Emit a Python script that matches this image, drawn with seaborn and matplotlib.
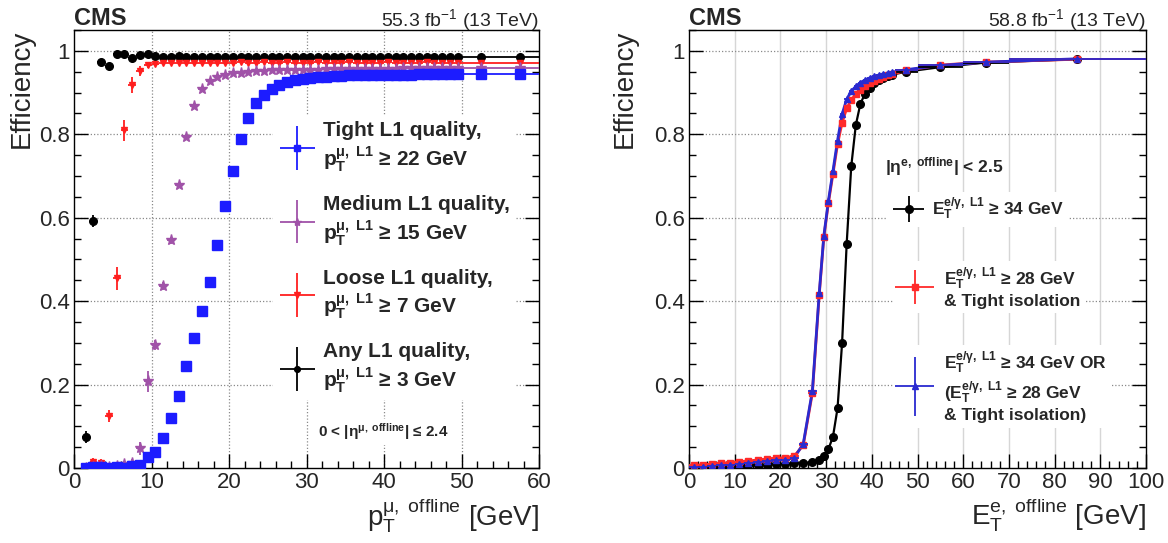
import matplotlib
matplotlib.use("Agg")
import matplotlib.pyplot as plt
import seaborn as sns
import pandas as pd
from matplotlib.ticker import MultipleLocator, FuncFormatter
from matplotlib.legend_handler import HandlerErrorbar
from matplotlib.container import ErrorbarContainer
from matplotlib.font_manager import FontProperties

# ---------------- left panel: muon L1 efficiency ----------------
mu_pt = [1.5, 2.5, 3.5, 4.5, 5.5, 6.5, 7.5, 8.5, 9.5,
         10.5, 11.5, 12.5, 13.5, 14.5, 15.5, 16.5, 17.5, 18.5, 19.5,
         20.5, 21.5, 22.5, 23.5, 24.5, 25.5, 26.5, 27.5, 28.5, 29.5,
         30.5, 31.5, 32.5, 33.5, 34.5, 35.5, 36.5, 37.5, 38.5, 39.5,
         40.5, 41.5, 42.5, 43.5, 44.5, 45.5, 46.5, 47.5, 48.5, 49.5,
         52.5, 57.5]
mu_halfwidth = [0.5] * 49 + [2.5, 2.5]

eff_any = [0.075, 0.592, 0.973, 0.964, 0.992, 0.993, 0.984, 0.989, 0.992,
           0.987, 0.986, 0.986, 0.987, 0.986, 0.986, 0.985, 0.986, 0.986, 0.986,
           0.986, 0.985, 0.986, 0.986, 0.986, 0.985, 0.986, 0.986, 0.986, 0.986,
           0.986, 0.985, 0.986, 0.986, 0.986, 0.986, 0.985, 0.986, 0.986, 0.986,
           0.986, 0.986, 0.985, 0.986, 0.986, 0.986, 0.986, 0.985, 0.986, 0.986,
           0.986, 0.986]
err_any = [0.014, 0.015, 0.006, 0.006, 0.004, 0.003, 0.003, 0.003, 0.003] + [0.002] * 42

eff_loose = [0.002, 0.015, 0.013, 0.125, 0.455, 0.810, 0.918, 0.952, 0.966,
             0.968, 0.970, 0.971, 0.971, 0.972, 0.971, 0.972, 0.972, 0.972, 0.972,
             0.972, 0.973, 0.972, 0.972, 0.973, 0.972, 0.972, 0.973, 0.972, 0.972,
             0.972, 0.973, 0.972, 0.972, 0.972, 0.973, 0.972, 0.972, 0.972, 0.972,
             0.973, 0.972, 0.972, 0.972, 0.972, 0.973, 0.972, 0.972, 0.972, 0.972,
             0.972, 0.972]
err_loose = [0.006, 0.008, 0.008, 0.015, 0.028, 0.025, 0.020, 0.012, 0.006] + [0.002] * 42

eff_medium = [0.000, 0.003, 0.004, 0.003, 0.004, 0.010, 0.013, 0.047, 0.208,
              0.294, 0.437, 0.546, 0.679, 0.793, 0.868, 0.908, 0.928, 0.938, 0.943,
              0.946, 0.948, 0.950, 0.951, 0.952, 0.953, 0.953, 0.954, 0.954, 0.955,
              0.955, 0.955, 0.956, 0.956, 0.956, 0.956, 0.957, 0.957, 0.957, 0.957,
              0.957, 0.957, 0.958, 0.958, 0.958, 0.958, 0.958, 0.958, 0.958, 0.958,
              0.958, 0.958]
err_medium = [0.004, 0.005, 0.005, 0.005, 0.005, 0.006, 0.008, 0.015, 0.025,
              0.012, 0.010, 0.008] + [0.003] * 39

eff_tight = [0.001, 0.002, 0.002, 0.001, 0.002, 0.001, 0.004, 0.006, 0.026,
             0.039, 0.072, 0.120, 0.173, 0.245, 0.312, 0.377, 0.446, 0.535, 0.627,
             0.712, 0.788, 0.838, 0.875, 0.893, 0.908, 0.918, 0.925, 0.930, 0.933,
             0.935, 0.937, 0.938, 0.939, 0.940, 0.941, 0.941, 0.942, 0.942, 0.942,
             0.943, 0.943, 0.943, 0.943, 0.944, 0.944, 0.944, 0.944, 0.944, 0.944,
             0.944, 0.944]
err_tight = [0.002] * 51

mu_labels = ["Tight L1 quality,\n$\\mathbf{p_{T}^{μ,\\ L1}}$ ≥ 22 GeV",
             "Medium L1 quality,\n$\\mathbf{p_{T}^{μ,\\ L1}}$ ≥ 15 GeV",
             "Loose L1 quality,\n$\\mathbf{p_{T}^{μ,\\ L1}}$ ≥ 7 GeV",
             "Any L1 quality,\n$\\mathbf{p_{T}^{μ,\\ L1}}$ ≥ 3 GeV"]

# ---------------- right panel: e/gamma L1 efficiency ----------------
e_et = [1, 3, 5, 7, 9, 11, 13, 15, 17, 19, 21, 23, 25, 27,
        28.5, 29.5, 30.5, 31.5, 32.5, 33.5, 34.5, 35.5, 36.5, 37.5, 38.5,
        39.5, 40.5, 41.5, 42.5, 43.5, 44.5,
        47.5, 55, 65, 85]
e_halfwidth = [1] * 14 + [0.5] * 17 + [2.5, 5, 5, 15]

eff_34 = [0.001, 0.002, 0.002, 0.003, 0.004, 0.005, 0.006, 0.007, 0.008, 0.009,
          0.010, 0.011, 0.012, 0.014,
          0.019, 0.028, 0.045, 0.075, 0.143, 0.300, 0.537, 0.723, 0.822, 0.873,
          0.897, 0.912, 0.922, 0.929, 0.934, 0.939, 0.943,
          0.950, 0.961, 0.972, 0.980]
eff_iso = [0.006, 0.008, 0.009, 0.011, 0.013, 0.015, 0.017, 0.019, 0.021, 0.023,
           0.025, 0.028, 0.055, 0.180,
           0.415, 0.553, 0.635, 0.705, 0.776, 0.828, 0.862, 0.882, 0.896, 0.907,
           0.915, 0.922, 0.928, 0.933, 0.937, 0.941, 0.944,
           0.953, 0.966, 0.973, 0.980]
eff_or = [0.002, 0.003, 0.004, 0.006, 0.008, 0.010, 0.012, 0.014, 0.016, 0.018,
          0.020, 0.024, 0.058, 0.185,
          0.420, 0.556, 0.640, 0.712, 0.785, 0.848, 0.884, 0.903, 0.915, 0.924,
          0.930, 0.935, 0.939, 0.942, 0.945, 0.947, 0.949,
          0.955, 0.965, 0.973, 0.981]
e_err = [0.003] * 35

eg_labels = ["$\\mathbf{E_{T}^{e/γ,\\ L1}}$ ≥ 34 GeV",
             "$\\mathbf{E_{T}^{e/γ,\\ L1}}$ ≥ 28 GeV\n& Tight isolation",
             "$\\mathbf{E_{T}^{e/γ,\\ L1}}$ ≥ 34 GeV OR\n($\\mathbf{E_{T}^{e/γ,\\ L1}}$ ≥ 28 GeV\n& Tight isolation)"]

# ---------------- style ----------------
sns.set_theme(style="white")
plt.rcParams.update({
    "font.family": ["Liberation Sans", "DejaVu Sans"],
    "mathtext.fontset": "custom",
    "mathtext.rm": "Liberation Sans",
    "mathtext.it": "Liberation Sans:italic",
    "mathtext.bf": "Liberation Sans:bold",
    "mathtext.default": "regular",
    "axes.edgecolor": "black",
    "axes.linewidth": 1.0,
    "axes.facecolor": "white",
    "figure.facecolor": "white",
})

BLUE, VIOLET, RED = "#1c1cff", "#a052a8", "#ff1f1f"
E_RED, E_BLUE = "#ff2a2a", "#2a2ad0"

fig = plt.figure(figsize=(11.68, 5.43), dpi=100)
ax1 = fig.add_axes([74 / 1168, 1 - 468 / 543, 465 / 1168, 438 / 543])
ax2 = fig.add_axes([689 / 1168, 1 - 468 / 543, 457 / 1168, 438 / 543])

fmt_tick = FuncFormatter(lambda v, p: f"{v:g}")
dotted = dict(color="#8a8a8a", lw=0.9, ls=(0, (1, 1.6)), zorder=0.5)


def style_axes(ax, xmax, xmajor, xminor):
    ax.set_xlim(0, xmax)
    ax.set_ylim(0, 1.05)
    ax.xaxis.set_major_locator(MultipleLocator(xmajor))
    ax.xaxis.set_minor_locator(MultipleLocator(xminor))
    ax.yaxis.set_major_locator(MultipleLocator(0.2))
    ax.yaxis.set_minor_locator(MultipleLocator(0.05))
    ax.xaxis.set_major_formatter(fmt_tick)
    ax.yaxis.set_major_formatter(fmt_tick)
    ax.tick_params(which="both", direction="in", top=False, right=True,
                   bottom=True, left=True, width=1.0, color="black")
    ax.tick_params(which="major", length=10, labelsize=16, pad=3)
    ax.tick_params(which="minor", length=5)
    for sp in ax.spines.values():
        sp.set_visible(True)
        sp.set_color("black")
        sp.set_linewidth(1.0)
    for yv in [0.2, 0.4, 0.6, 0.8, 1.0]:
        ax.axhline(yv, **dotted)


# ----- left -----
style_axes(ax1, 60, 10, 2)
for xv in [10, 20, 30, 40, 50]:
    ax1.axvline(xv, **dotted)

ebkw = dict(ls="none", elinewidth=1.3, capsize=0)
h_any = ax1.errorbar(mu_pt, eff_any, yerr=err_any, xerr=mu_halfwidth, fmt="o",
                     color="black", ms=5.5, zorder=3, **ebkw)
h_loose = ax1.errorbar(mu_pt, eff_loose, yerr=err_loose, xerr=mu_halfwidth, fmt="v",
                       color=RED, ms=5, zorder=3, **ebkw)
h_medium = ax1.errorbar(mu_pt, eff_medium, yerr=err_medium, xerr=mu_halfwidth, fmt="*",
                        color=VIOLET, ms=8, zorder=3, **ebkw)
h_tight = ax1.errorbar(mu_pt, eff_tight, yerr=err_tight, xerr=mu_halfwidth, fmt="s",
                       color=BLUE, ms=6.5, zorder=3, **ebkw)

leg_font = FontProperties(family="Liberation Sans", weight="bold", size=15)
leg1 = ax1.legend([h_tight, h_medium, h_loose, h_any], mu_labels,
                  loc="center left", bbox_to_anchor=(0.429, 0.479),
                  frameon=True, facecolor="white", edgecolor="none", framealpha=1,
                  fancybox=False, prop=leg_font, handlelength=1.8,
                  handletextpad=0.33, borderpad=0.25, borderaxespad=0,
                  labelspacing=1.0, numpoints=1, markerscale=0.75,
                  handler_map={ErrorbarContainer: HandlerErrorbar(xerr_size=0.86, yerr_size=1.05)})
leg1.set_zorder(5)

ax1.text(31.5, 0.087, "0 < |η$^{\\mathbf{μ,\\ offline}}$| ≤ 2.4", fontsize=11,
         fontweight="bold", ha="left", va="center", zorder=6,
         bbox=dict(facecolor="white", edgecolor="none", pad=2))

ax1.set_xlabel("$p_{T}^{μ,\\ offline}$ [GeV]", loc="right", fontsize=20, labelpad=2)
ax1.set_ylabel("Efficiency", loc="top", fontsize=20, labelpad=3)
ax1.text(0.0, 1.012, "CMS", transform=ax1.transAxes, fontsize=17, fontweight="bold",
         ha="left", va="baseline")
ax1.text(1.0, 1.010, "55.3 fb$^{-1}$ (13 TeV)", transform=ax1.transAxes, fontsize=14,
         ha="right", va="baseline")

# ----- right -----
style_axes(ax2, 100, 10, 2)
for xv in range(10, 100, 10):
    ax2.axvline(xv, color="#d6d6d6", lw=1.0, zorder=0.4)

df34 = pd.DataFrame({"et": e_et, "eff": eff_34})
dfiso = pd.DataFrame({"et": e_et, "eff": eff_iso})
dfor = pd.DataFrame({"et": e_et, "eff": eff_or})

sns.lineplot(data=df34, x="et", y="eff", ax=ax2, color="black", lw=1.6, legend=False, zorder=2)
sns.lineplot(data=dfiso, x="et", y="eff", ax=ax2, color=E_RED, lw=2.0, legend=False, zorder=2.1)
sns.lineplot(data=dfor, x="et", y="eff", ax=ax2, color=E_BLUE, lw=2.0, legend=False, zorder=2.2)

h34 = ax2.errorbar(e_et, eff_34, yerr=e_err, xerr=e_halfwidth, fmt="o", color="black",
                   ms=5.5, zorder=3, **ebkw)
hiso = ax2.errorbar(e_et, eff_iso, yerr=e_err, xerr=e_halfwidth, fmt="s", color=E_RED,
                    ms=5, zorder=3.1, **ebkw)
hor = ax2.errorbar(e_et, eff_or, yerr=e_err, xerr=e_halfwidth, fmt="^", color=E_BLUE,
                   ms=4.5, zorder=3.2, **ebkw)

leg_font2 = FontProperties(family="Liberation Sans", weight="bold", size=12.5)
common = dict(loc="center left", frameon=True, facecolor="white", edgecolor="none",
              framealpha=1, fancybox=False, prop=leg_font2, handlelength=2.0,
              borderpad=0.25, borderaxespad=0, numpoints=1, markerscale=1.0)
legA = ax2.legend([h34], [eg_labels[0]], bbox_to_anchor=(0.433, 0.591),
                  handletextpad=0.37,
                  handler_map={ErrorbarContainer: HandlerErrorbar(xerr_size=0.9, yerr_size=0.75)},
                  **common)
ax2.add_artist(legA)
legB = ax2.legend([hiso], [eg_labels[1]], bbox_to_anchor=(0.446, 0.413),
                  handletextpad=0.67,
                  handler_map={ErrorbarContainer: HandlerErrorbar(xerr_size=1.1, yerr_size=1.0)},
                  **common)
ax2.add_artist(legB)
legC = ax2.legend([hor], [eg_labels[2]], bbox_to_anchor=(0.446, 0.186),
                  handletextpad=0.67,
                  handler_map={ErrorbarContainer: HandlerErrorbar(xerr_size=1.1, yerr_size=1.7)},
                  **common)
for lg in (legA, legB, legC):
    lg.set_zorder(5)

ax2.text(42.8, 0.722, "|η$^{\\mathbf{e,\\ offline}}$| < 2.5", fontsize=12.5,
         fontweight="bold", ha="left", va="center", zorder=6)

ax2.set_xlabel("$E_{T}^{e,\\ offline}$ [GeV]", loc="right", fontsize=20, labelpad=2)
ax2.set_ylabel("Efficiency", loc="top", fontsize=20, labelpad=12)
ax2.text(0.0, 1.012, "CMS", transform=ax2.transAxes, fontsize=17, fontweight="bold",
         ha="left", va="baseline")
ax2.text(1.0, 1.010, "58.8 fb$^{-1}$ (13 TeV)", transform=ax2.transAxes, fontsize=14,
         ha="right", va="baseline")

fig.savefig("out.png", dpi=100)
